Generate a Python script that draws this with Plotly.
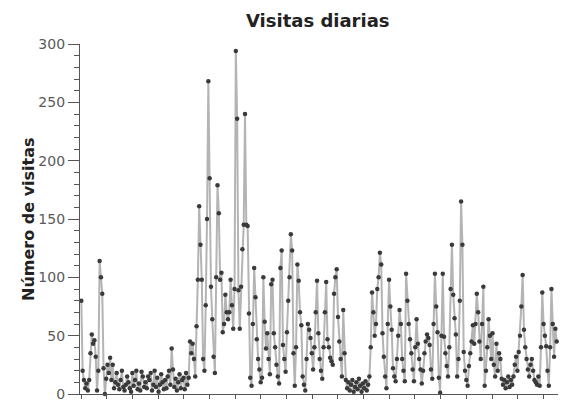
import plotly.graph_objects as go

visits = [
    80, 20, 12, 5, 9, 3, 12, 35, 51, 43,
    46, 32, 3, 20, 114, 100, 86, 22, 0, 13,
    25, 18, 31, 12, 25, 5, 10, 18, 8, 4,
    12, 20, 6, 3, 8, 15, 10, 5, 2, 18,
    7, 12, 20, 4, 9, 3, 19, 15, 6, 10,
    5, 15, 12, 18, 3, 8, 20, 6, 14, 2,
    8, 17, 10, 4, 12, 5, 15, 20, 8, 39,
    21, 6, 13, 3, 10, 17, 5, 12, 14, 4,
    18, 8, 14, 45, 35, 43, 30, 15, 58, 98,
    161, 128, 98, 30, 20, 76, 150, 268, 185, 92,
    64, 32, 18, 100, 179, 155, 98, 104, 53, 60,
    85, 70, 64, 70, 98, 76, 56, 90, 294, 236,
    89, 56, 92, 124, 145, 240, 145, 144, 69, 14,
    7, 60, 108, 83, 47, 30, 21, 10, 14, 100,
    62, 39, 52, 30, 17, 94, 98, 52, 40, 25,
    15, 9, 108, 123, 42, 30, 19, 53, 80, 100,
    137, 123, 35, 7, 40, 111, 97, 70, 59, 15,
    8, 3, 30, 60, 55, 48, 35, 21, 40, 70,
    97, 52, 30, 20, 13, 40, 70, 96, 47, 40,
    31, 28, 25, 86, 100, 107, 66, 45, 30, 15,
    72, 35, 12, 5, 10, 3, 8, 12, 2, 6,
    10, 4, 13, 7, 2, 9, 5, 11, 3, 8,
    15, 40, 87, 70, 50, 60, 90, 100, 121, 111,
    52, 32, 15, 5, 60, 98, 75, 55, 22, 15,
    11, 30, 50, 72, 60, 30, 20, 11, 103, 80,
    60, 47, 35, 21, 11, 40, 64, 43, 30, 21,
    9, 20, 35, 45, 51, 48, 42, 21, 13, 60,
    103, 75, 53, 14, 1, 50, 103, 49, 35, 24,
    15, 40, 90, 128, 85, 65, 51, 15, 30, 80,
    165, 128, 36, 20, 12, 7, 24, 35, 45, 59,
    43, 60, 86, 70, 45, 30, 60, 92, 7, 20,
    40, 64, 50, 30, 52, 25, 15, 43, 20, 35,
    30, 13, 8, 12, 5, 10, 15, 6, 12, 8,
    15, 25, 32, 20, 36, 50, 75, 102, 55, 40,
    30, 21, 15, 25, 30, 20, 12, 10, 8, 15,
    7, 40, 87, 60, 50, 41, 20, 7, 40, 90,
    60, 32, 56, 45,
]
days = list(range(len(visits)))

title_text = "Visitas diarias"
y_title = "Número de visitas"

fig = go.Figure()
fig.add_trace(go.Scatter(
    x=days, y=visits, mode="lines+markers",
    line=dict(color="#b4b4b4", width=2),
    marker=dict(color="#3a3a3a", size=4.5),
    cliponaxis=False,
    showlegend=False,
))

fig.update_layout(
    width=571, height=402,
    margin=dict(l=72, r=21, t=36, b=12),
    paper_bgcolor="white", plot_bgcolor="white",
    font=dict(family="DejaVu Sans", color="#5a5a5a", size=14),
)
fig.add_annotation(
    text="<b>" + title_text + "</b>", xref="paper", yref="paper",
    x=0.498, y=1, xanchor="center", yanchor="middle", yshift=24,
    showarrow=False, font=dict(family="DejaVu Sans", size=18, color="#222222"),
)
fig.add_annotation(
    text="<b>" + y_title + "</b>", xref="paper", yref="paper",
    x=0, y=0.5, xanchor="center", yanchor="middle", xshift=-52,
    textangle=-90, showarrow=False,
    font=dict(family="DejaVu Sans", size=16, color="#222222"),
)
fig.update_xaxes(
    range=[-1, 364], showgrid=False, zeroline=False,
    showline=True, linecolor="#555555", linewidth=1.2,
    ticks="outside", ticklen=4, tickcolor="#555555",
    tick0=0, dtick=19.6, showticklabels=False,
)
fig.update_yaxes(
    range=[0, 300], showgrid=False, zeroline=False, automargin=False,
    showline=True, linecolor="#555555", linewidth=1.2,
    ticks="outside", ticklen=11, tickcolor="#555555",
    tick0=0, dtick=50,
    minor=dict(dtick=10, ticks="outside", ticklen=5, tickcolor="#555555"),
)

fig.write_html("out.html")
